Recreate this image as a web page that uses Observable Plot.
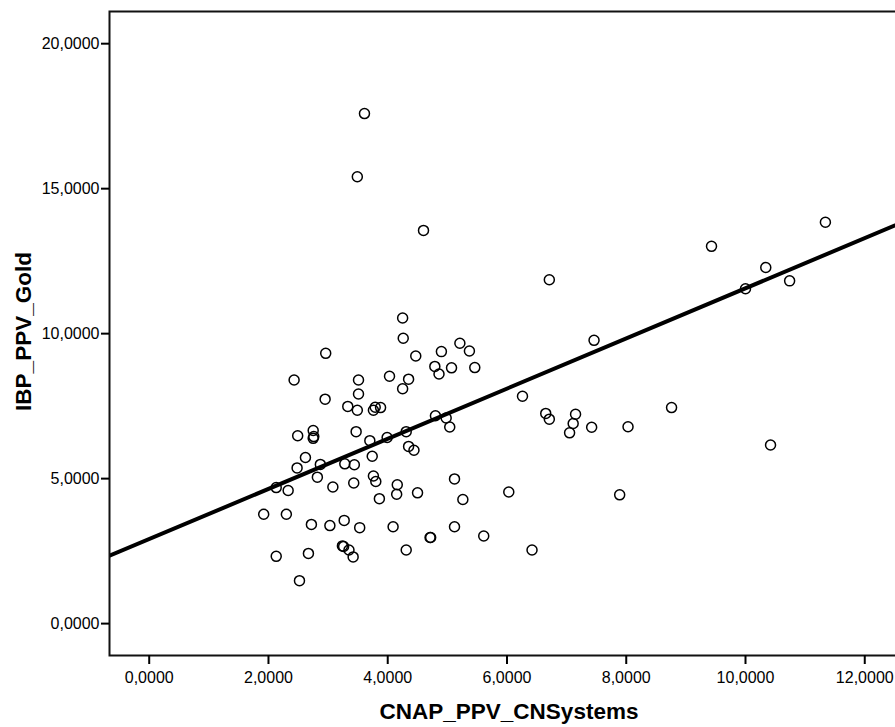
<!DOCTYPE html>
<html>
<head>
<meta charset="utf-8">
<script src="https://cdn.jsdelivr.net/npm/d3@7"></script>
<script src="https://cdn.jsdelivr.net/npm/@observablehq/plot@0.6"></script>
<style>
  html, body { margin: 0; padding: 0; background: #fff; overflow: hidden; }
  #chart { width: 895px; height: 727px; overflow: hidden; }
  #chart svg { max-width: none !important; }
</style>
</head>
<body>
<div id="chart"></div>
<script>
// CNAP_PPV_CNSystems (x) values
const cnap = [
  3.61, 3.49, 4.60, 4.25, 4.26, 2.96, 4.47, 4.90, 5.21, 5.37,
  4.79, 5.07, 5.46, 4.86, 2.43, 3.51, 4.03, 4.35, 4.25, 3.51,
  2.95, 3.33, 3.49, 3.76, 3.79, 3.88, 4.80, 4.98, 5.04, 2.75,
  2.76, 2.75, 2.49, 3.47, 3.70, 3.99, 4.31, 4.35, 4.44, 2.62,
  2.48, 2.87, 3.28, 3.44, 3.74, 2.13, 2.33, 2.82, 3.08, 3.43,
  3.76, 3.80, 4.16, 4.15, 3.86, 4.50, 5.12, 5.26, 6.03, 1.92,
  2.30, 2.72, 3.03, 3.27, 3.53, 4.09, 5.12, 5.61, 4.71, 4.72,
  2.13, 2.67, 3.24, 3.26, 3.35, 3.42, 4.31, 2.52, 6.26, 7.46,
  6.65, 6.71, 7.15, 7.11, 7.05, 7.42, 8.03, 8.76, 10.42, 7.89,
  6.42, 11.34, 9.43, 6.71, 10.34, 10.00, 10.74
];
// IBP_PPV_Gold (y) values
const ibp = [
  17.59, 15.41, 13.56, 10.54, 9.84, 9.32, 9.23, 9.38, 9.67, 9.40,
  8.87, 8.82, 8.83, 8.61, 8.40, 8.40, 8.53, 8.43, 8.10, 7.92,
  7.74, 7.49, 7.36, 7.36, 7.46, 7.45, 7.17, 7.09, 6.78, 6.66,
  6.45, 6.39, 6.48, 6.62, 6.31, 6.42, 6.62, 6.11, 5.98, 5.73,
  5.37, 5.49, 5.51, 5.48, 5.77, 4.69, 4.59, 5.05, 4.71, 4.85,
  5.09, 4.90, 4.79, 4.46, 4.31, 4.51, 4.99, 4.28, 4.54, 3.77,
  3.77, 3.42, 3.38, 3.56, 3.31, 3.34, 3.34, 3.02, 2.97, 2.97,
  2.32, 2.42, 2.68, 2.66, 2.54, 2.30, 2.54, 1.48, 7.84, 9.77,
  7.25, 7.05, 7.22, 6.90, 6.58, 6.77, 6.79, 7.45, 6.16, 4.44,
  2.54, 13.84, 13.01, 11.86, 12.28, 11.55, 11.82
];
// fit line (value at each end of the x axis)
const fitX = [-0.666, 12.7];
const fitY = [2.34, 13.90];

const xTicks = [0, 2, 4, 6, 8, 10, 12];
const yTicks = [0, 5, 10, 15, 20];
const xDomain = [-0.666, 12.7];
const yDomain = [-1.10, 21.11];
const xTitle = "CNAP_PPV_CNSystems";
const yTitle = "IBP_PPV_Gold";

const points = cnap.map((x, i) => ({x, y: ibp[i]}));
const fitLine = fitX.map((x, i) => ({x, y: fitY[i]}));

const fmt = v => d3.format(".4f")(v).replace(".", ",");

const chart = Plot.plot({
  width: 906,
  height: 727,
  marginLeft: 109,
  marginRight: 0,
  marginTop: 11,
  marginBottom: 72,
  style: {fontFamily: "'Liberation Sans', Arial, sans-serif", fontSize: "16px", color: "#000", background: "#fff", maxWidth: "none"},
  x: {domain: xDomain, label: null},
  y: {domain: yDomain, label: null},
  marks: [
    Plot.line(fitLine, {x: "x", y: "y", stroke: "#000", strokeWidth: 4, clip: true}),
    Plot.dot(points, {x: "x", y: "y", r: 5, stroke: "#000", strokeWidth: 1.5, fill: "none"}),
    Plot.frame({stroke: "#111", strokeWidth: 2}),
    Plot.axisX({ticks: xTicks, tickFormat: fmt, tickSize: 9, tickPadding: 7, strokeWidth: 2, label: null, fontSize: 16}),
    Plot.axisY({ticks: yTicks, tickFormat: fmt, tickSize: 8, tickPadding: 2, strokeWidth: 2, label: null, fontSize: 16}),
    Plot.text([xTitle], {frameAnchor: "bottom", dy: 56, lineAnchor: "middle", textAnchor: "middle", fontSize: 22.5, fontWeight: "bold", text: d => d, dx: 1}),
    Plot.text([yTitle], {frameAnchor: "left", dx: -86, rotate: -90, lineAnchor: "middle", textAnchor: "middle", fontSize: 22.5, fontWeight: "bold", text: d => d, dy: -2})
  ]
});
chart.style.maxWidth = "none";
document.getElementById("chart").appendChild(chart);
</script>
</body>
</html>
